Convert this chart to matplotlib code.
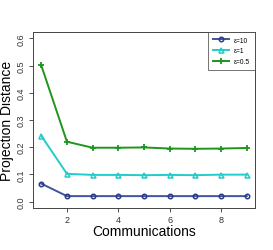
import matplotlib
matplotlib.use("Agg")
import matplotlib.pyplot as plt

communications = [1, 2, 3, 4, 5, 6, 7, 8, 9]
eps10 = [0.066, 0.020, 0.020, 0.020, 0.020, 0.020, 0.020, 0.020, 0.020]
eps1 = [0.242, 0.102, 0.098, 0.098, 0.097, 0.098, 0.097, 0.099, 0.099]
eps05 = [0.501, 0.220, 0.198, 0.198, 0.199, 0.195, 0.194, 0.195, 0.197]
labels = ["ε=10", "ε=1", "ε=0.5"]
xticks = [2, 4, 6, 8]
yticks = [0.0, 0.1, 0.2, 0.3, 0.4, 0.5, 0.6]

plt.rcParams['font.family'] = ['Liberation Sans', 'DejaVu Sans']

fig = plt.figure(figsize=(2.73, 2.51), dpi=100)
ax = fig.add_axes([0.121, 0.167, 0.813, 0.702])

ax.plot(communications, eps10, color='#4055a0', lw=1.4, marker='o', ms=3.2,
        mfc='none', mec='#2a3a8a', mew=1.1, label=labels[0])
ax.plot(communications, eps1, color='#22cccc', lw=1.4, marker='^', ms=3.6,
        mfc='none', mew=1.1, label=labels[1])
ax.plot(communications, eps05, color='#1e961e', lw=1.4, marker='+', ms=5,
        mew=1.3, label=labels[2])

ax.set_xlim(0.68, 9.32)
ax.set_ylim(-0.024, 0.624)
ax.set_xticks(xticks)
ax.set_yticks(yticks)
ax.set_yticklabels([f"{v:.1f}" for v in yticks], rotation=90, va='center')
ax.tick_params(axis='both', direction='out', length=3, width=0.6,
               labelsize=6.5, colors='#333333', pad=2)
for s in ax.spines.values():
    s.set_linewidth(0.7)
    s.set_color('#444444')

ax.set_xlabel("Communications", fontsize=10, labelpad=0)
ax.set_ylabel("Projection Distance", fontsize=10, labelpad=2)

leg = ax.legend(loc='upper right', fontsize=4.8, frameon=True, fancybox=False,
                borderaxespad=0, handlelength=2.4, borderpad=0.7, labelspacing=0.55)
leg.get_frame().set_edgecolor('#333333')
leg.get_frame().set_linewidth(0.6)

fig.savefig("out.png", dpi=100)
